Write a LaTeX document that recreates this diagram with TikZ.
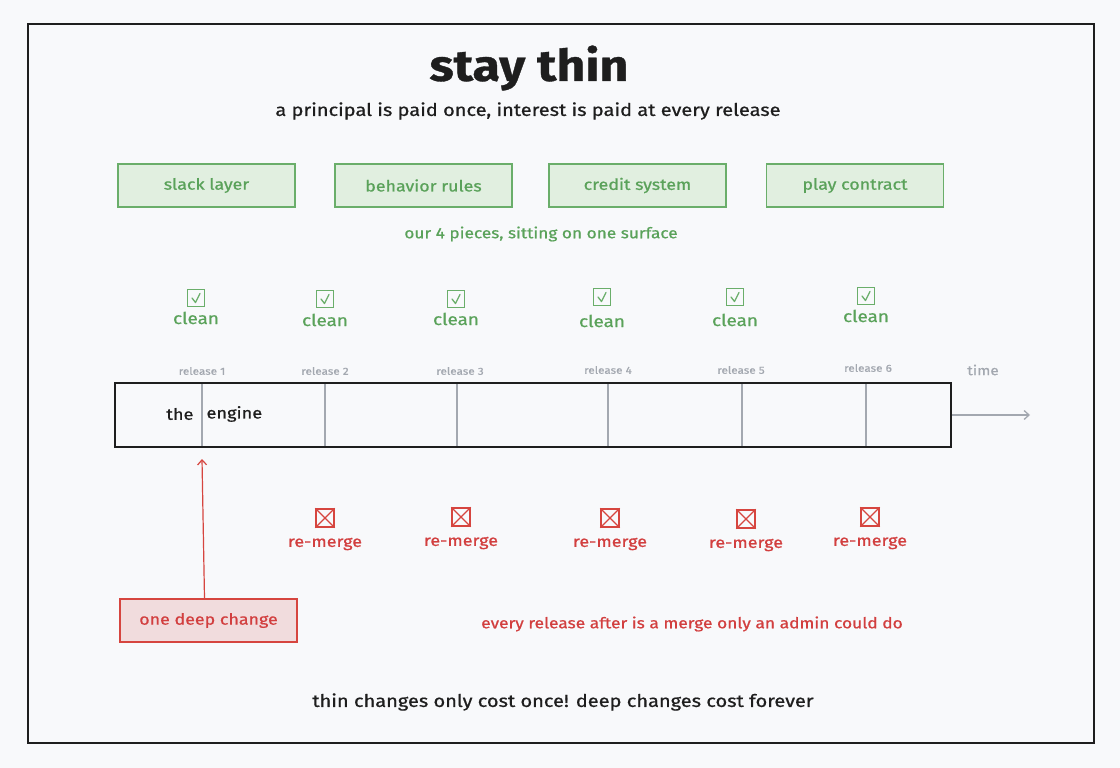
\documentclass[tikz,border=0pt]{standalone}
\usepackage{fontspec}
\setmainfont{Fira Sans}[FakeStretch=1.15, FakeBold=0.8]
\usetikzlibrary{arrows.meta}

\definecolor{paper}{HTML}{F8F9FB}
\definecolor{okline}{HTML}{6AAE6A}
\definecolor{okfill}{HTML}{E1EFE0}
\definecolor{oktext}{HTML}{5AA25A}
\definecolor{badline}{HTML}{D6453F}
\definecolor{badfill}{HTML}{F1DCDD}
\definecolor{badtext}{HTML}{D23F3F}
\definecolor{tick}{HTML}{A3A8B0}
\definecolor{ink}{HTML}{1E1E1E}

\tikzset{
  piece/.style={draw=okline, fill=okfill, line width=1.4pt, minimum width=177pt,
    minimum height=43pt, text=oktext, font=\fontsize{15.5}{17}\selectfont},
  deep/.style={draw=badline, fill=badfill, line width=1.4pt, minimum width=177pt,
    minimum height=43pt, text=badtext, font=\fontsize{15.5}{17}\selectfont},
  okbox/.style={draw=okline, line width=1.3pt, minimum size=17pt, inner sep=0pt},
  badbox/.style={draw=badline, line width=1.3pt, minimum size=18pt, inner sep=0pt},
  oklabel/.style={text=oktext, font=\fontsize{16.4}{18}\selectfont},
  badlabel/.style={text=badtext, font=\fontsize{15.6}{18}\selectfont},
  rellabel/.style={text=tick, font=\fontsize{10.2}{12}\selectfont},
}

\begin{document}
\begin{tikzpicture}[x=1pt,y=-1pt]
  \fill[paper] (0,0) rectangle (1120,768);
  \draw[ink, line width=1.2pt] (28,24) rectangle (1094,743);

  \node[text=ink, font=\fontsize{43.6}{46}\selectfont\bfseries] (title) at (529,68) {stay thin};
  \node[text=ink, font=\fontsize{17.4}{20}\selectfont] (sub) at (528,111)
    {a principal is paid once, interest is paid at every release};

  % the four pieces
  \node[piece] (slack) at (206.5,185.5) {slack layer};
  \node[piece] (rules) at (423.5,185.5) {behavior rules};
  \node[piece] (credit) at (637.5,185.5) {credit system};
  \node[piece] (play) at (855,185.5) {play contract};
  \node[oklabel, font=\fontsize{15}{17}\selectfont] (surface) at (541,234)
    {our 4 pieces, sitting on one surface};

  % clean checks
  \foreach \n/\x/\y/\ly in {1/196/298/318, 2/325/299/320, 3/456/299/319,
                            4/602/297/321, 5/735/297/320, 6/866/296/316} {
    \node[okbox] (ok\n) at (\x,\y) {};
    \draw[okline, line width=1.3pt, line cap=round, line join=round]
      (ok\n.center) ++(-4,0) -- ++(3.5,4.5) -- ++(4.5,-9);
    \node[oklabel] (clean\n) at (\x,\ly) {clean};
  }

  % the engine
  \node[draw=ink, line width=1.6pt, minimum width=836pt, minimum height=64pt,
    inner sep=0pt] (engine) at (533,415) {};
  \foreach \n/\x/\lx/\ly in {1/202/202/371, 2/325/325/371, 3/457/460/371,
                             4/608/608/370, 5/742/741/370, 6/866/868/368} {
    \draw[tick, line width=1.3pt] (\x,384) -- (\x,446);
    \node[rellabel] (rel\n) at (\lx,\ly) {release \n};
  }
  \node[text=ink, font=\fontsize{15.8}{18}\selectfont, anchor=east] (the) at (197,414) {the};
  \node[text=ink, font=\fontsize{15.8}{18}\selectfont, anchor=west] (eng) at (203,414) {engine};

  \coordinate (later) at (1030,415);
  \draw[tick, line width=1.3pt, -{Straight Barb[length=5pt,width=9pt]}] (engine.east) -- (later);
  \node[text=tick, font=\fontsize{13.4}{15}\selectfont] (time) at (983,370) {time};

  % the deep change
  \node[deep] (change) at (208.5,620.5) {one deep change};
  \coordinate (hit) at (202,459);
  \draw[badline, line width=1.2pt, -{Straight Barb[length=5pt,width=9pt]}]
    ([xshift=-4pt]change.north) -- (hit);

  % re-merges
  \foreach \n/\x/\y/\ly in {2/325/518/544, 3/461/517/543, 4/610/518/544,
                            5/746/519/545, 6/870/517/543} {
    \node[badbox] (bad\n) at (\x,\y) {};
    \draw[badline, line width=1.2pt] (bad\n.north west) -- (bad\n.south east)
      (bad\n.north east) -- (bad\n.south west);
    \node[badlabel] (merge\n) at (\x,\ly) {re-merge};
  }
  \node[text=badtext, font=\fontsize{15.1}{17}\selectfont] (admin) at (692,624)
    {every release after is a merge only an admin could do};

  \node[text=ink, font=\fontsize{17.4}{20}\selectfont] (moral) at (563,702)
    {thin changes only cost once! deep changes cost forever};
\end{tikzpicture}
\end{document}
